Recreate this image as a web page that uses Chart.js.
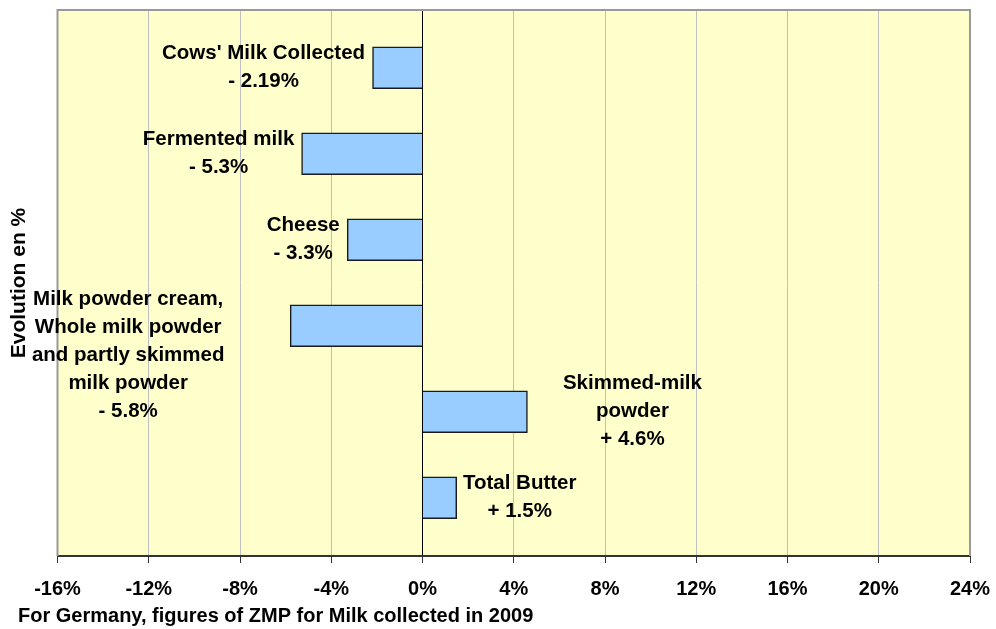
<!DOCTYPE html>
<html>
<head>
<meta charset="utf-8">
<script src="https://cdn.jsdelivr.net/npm/chart.js@4/dist/chart.umd.min.js"></script>
<style>
  html, body { margin: 0; padding: 0; background: #fff; }
  #wrap { width: 996px; height: 629px; }
</style>
</head>
<body>
<div id="wrap"><canvas id="chart" width="996" height="629"></canvas></div>
<script>
  // data
  var categories = [
    "Cows' Milk Collected",
    'Fermented milk',
    'Cheese',
    'Milk powder cream, Whole milk powder and partly skimmed milk powder',
    'Skimmed-milk powder',
    'Total Butter'
  ];
  var labelLines = [
    ["Cows' Milk Collected"],
    ['Fermented milk'],
    ['Cheese'],
    ['Milk powder cream,', 'Whole milk powder', 'and partly skimmed', 'milk powder'],
    ['Skimmed-milk', 'powder'],
    ['Total Butter']
  ];
  var values = [-2.19, -5.3, -3.3, -5.8, 4.6, 1.5];
  var xMin = -16, xMax = 24, xStep = 4;
  var xTitle = 'For Germany, figures of ZMP for Milk collected in 2009';
  var yTitle = 'Evolution en %';

  var FONT = 'Arial, "Liberation Sans", sans-serif';

  var points = values.map(function (v, i) { return { x: v, y: i }; });

  var fmtValue = function (v) {
    return (v < 0 ? '- ' : '+ ') + Math.abs(v) + '%';
  };

  // plot background + frame
  var plotArea = {
    id: 'plotArea',
    beforeDraw: function (chart) {
      var a = chart.chartArea, ctx = chart.ctx;
      ctx.save();
      ctx.fillStyle = '#FFFFCC';
      ctx.fillRect(a.left, a.top, a.right - a.left, a.bottom - a.top);
      ctx.restore();
    },
    afterDatasetsDraw: function (chart) {
      var a = chart.chartArea, ctx = chart.ctx;
      ctx.save();
      ctx.strokeStyle = '#999999';
      ctx.lineWidth = 2;
      ctx.beginPath();
      ctx.moveTo(a.left, a.bottom);
      ctx.lineTo(a.left, a.top);
      ctx.lineTo(a.right, a.top);
      ctx.lineTo(a.right, a.bottom);
      ctx.stroke();
      ctx.restore();
    }
  };

  // text next to each bar
  var barLabels = {
    id: 'barLabels',
    afterDatasetsDraw: function (chart, args, opts) {
      var ctx = chart.ctx;
      var meta = chart.getDatasetMeta(0);
      ctx.save();
      ctx.font = 'bold 20.5px ' + FONT;
      ctx.fillStyle = '#000';
      ctx.textAlign = 'center';
      ctx.textBaseline = 'middle';
      meta.data.forEach(function (bar, i) {
        var lines = labelLines[i].concat([fmtValue(values[i])]);
        var off = opts.offsets[i];
        var cx = bar.x + off[0];
        var cy = bar.y + off[1];
        var y0 = cy - (lines.length - 1) * opts.lineHeight / 2;
        lines.forEach(function (t, k) {
          ctx.fillText(t, cx, y0 + k * opts.lineHeight);
        });
      });
      ctx.restore();
    }
  };

  var xAxisTitle = {
    id: 'xAxisTitle',
    afterDraw: function (chart) {
      var ctx = chart.ctx;
      ctx.save();
      ctx.font = 'bold 20px ' + FONT;
      ctx.fillStyle = '#000';
      ctx.textAlign = 'left';
      ctx.textBaseline = 'middle';
      ctx.fillText(xTitle, 18, 616);
      ctx.restore();
    }
  };

  var config = {
    type: 'bar',
    data: {
      labels: categories,
      datasets: [{
        data: points,
        backgroundColor: '#99CCFF',
        borderColor: '#1a1a1a',
        borderWidth: 1.5,
        barThickness: 42
      }]
    },
    options: {
      indexAxis: 'y',
      responsive: false,
      animation: false,
      layout: {
        padding: { top: 10, right: 26, left: 0, bottom: 0 }
      },
      plugins: {
        legend: { display: false },
        tooltip: { enabled: false },
        barLabels: {
          lineHeight: 28,
          offsets: [[-109, 0], [-83, 0], [-44, 0], [-162, 30], [105, 0], [63, 0]]
        }
      },
      scales: {
        x: {
          type: 'linear',
          min: xMin,
          max: xMax,
          ticks: {
            stepSize: xStep,
            padding: 14,
            color: '#000',
            font: { family: FONT, size: 20, weight: 'bold' },
            callback: function (v) { return v + '%'; }
          },
          grid: {
            color: function (c) { return c.tick && c.tick.value === 0 ? '#000000' : '#C0C0C0'; },
            lineWidth: 1,
            tickLength: 7,
            tickColor: '#333333'
          },
          border: { color: '#333333', width: 2 },
          afterFit: function (scale) {
            scale.height = 73;
            scale.paddingLeft = 0;
            scale.paddingRight = 0;
          }
        },
        y: {
          type: 'linear',
          reverse: true,
          offset: false,
          min: -0.671,
          max: 5.677,
          ticks: { display: false },
          grid: { display: false, drawTicks: false },
          border: { display: false },
          title: {
            display: true,
            text: yTitle,
            color: '#000',
            padding: { top: 7, bottom: 0 },
            font: { family: FONT, size: 21, weight: 'bold' }
          },
          afterFit: function (scale) { scale.width = 57.5; }
        }
      }
    },
    plugins: [plotArea, barLabels, xAxisTitle]
  };

  window.onload = function () {
    var ctx = document.getElementById('chart').getContext('2d');
    window.myChart = new Chart(ctx, config);
  };
</script>
</body>
</html>
